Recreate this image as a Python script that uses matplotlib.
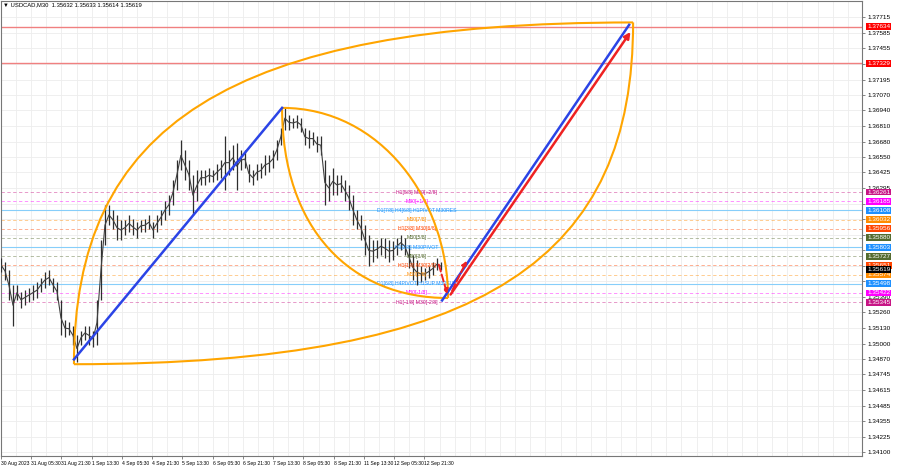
import numpy as np
import matplotlib.pyplot as plt
from matplotlib.path import Path
from matplotlib.patches import PathPatch
import matplotlib.transforms as mtransforms

plt.rcParams['font.family'] = ['Liberation Sans', 'DejaVu Sans']

# price bars (high / low per 2-hour group)
hi = [1.3571, 1.3568, 1.3561, 1.3549, 1.3549, 1.3543, 1.3545, 1.3546, 1.3549, 1.3551,
      1.3555, 1.3560, 1.3561, 1.3555, 1.3551, 1.3536, 1.3520, 1.3518, 1.3515, 1.3507,
      1.3511, 1.3515, 1.3515, 1.3511, 1.3536, 1.3586, 1.3615, 1.3615, 1.3611, 1.3607,
      1.3603, 1.3603, 1.3607, 1.3604, 1.3601, 1.3603, 1.3604, 1.3607, 1.3601, 1.3607,
      1.3611, 1.3619, 1.3624, 1.3636, 1.3653, 1.3669, 1.3661, 1.3653, 1.3640, 1.3644,
      1.3644, 1.3644, 1.3646, 1.3644, 1.3649, 1.3653, 1.3673, 1.3661, 1.3665, 1.3667,
      1.3661, 1.3661, 1.3649, 1.3644, 1.3649, 1.3650, 1.3657, 1.3657, 1.3661, 1.3669,
      1.3679, 1.3697, 1.3690, 1.3688, 1.3690, 1.3688, 1.3679, 1.3678, 1.3676, 1.3673,
      1.3673, 1.3653, 1.3640, 1.3646, 1.3640, 1.3640, 1.3636, 1.3632, 1.3624, 1.3611,
      1.3607, 1.3599, 1.3590, 1.3586, 1.3586, 1.3588, 1.3588, 1.3586, 1.3585, 1.3588,
      1.3590, 1.3588, 1.3582, 1.3574, 1.3570, 1.3565, 1.3563, 1.3565, 1.3568, 1.3571,
      1.3568]
lo = [1.3560, 1.3553, 1.3536, 1.3515, 1.3536, 1.3530, 1.3532, 1.3535, 1.3536, 1.3538,
      1.3543, 1.3546, 1.3549, 1.3543, 1.3536, 1.3507, 1.3506, 1.3507, 1.3499, 1.3485,
      1.3499, 1.3503, 1.3499, 1.3497, 1.3499, 1.3536, 1.3582, 1.3599, 1.3595, 1.3586,
      1.3586, 1.3590, 1.3593, 1.3590, 1.3588, 1.3593, 1.3593, 1.3595, 1.3588, 1.3593,
      1.3599, 1.3603, 1.3607, 1.3615, 1.3628, 1.3644, 1.3636, 1.3628, 1.3607, 1.3619,
      1.3632, 1.3632, 1.3634, 1.3634, 1.3636, 1.3638, 1.3628, 1.3640, 1.3644, 1.3628,
      1.3644, 1.3646, 1.3634, 1.3632, 1.3636, 1.3638, 1.3640, 1.3643, 1.3646, 1.3653,
      1.3665, 1.3678, 1.3678, 1.3679, 1.3679, 1.3676, 1.3665, 1.3663, 1.3665, 1.3659,
      1.3657, 1.3615, 1.3619, 1.3624, 1.3624, 1.3626, 1.3619, 1.3611, 1.3599, 1.3595,
      1.3586, 1.3574, 1.3565, 1.3568, 1.3571, 1.3574, 1.3571, 1.3568, 1.3570, 1.3574,
      1.3578, 1.3574, 1.3563, 1.3553, 1.3549, 1.3551, 1.3553, 1.3555, 1.3557, 1.3561,
      1.3561]
bar_step = 4.23  # M30 bars per group

# time axis labels every 32 bars
time_labels = ["30 Aug 2023", "31 Aug 05:30", "31 Aug 21:30", "1 Sep 13:30", "4 Sep 05:30",
               "4 Sep 21:30", "5 Sep 13:30", "6 Sep 05:30", "6 Sep 21:30", "7 Sep 13:30",
               "8 Sep 05:30", "8 Sep 21:30", "11 Sep 13:30", "12 Sep 05:30", "12 Sep 21:30"]

price_ticks = [1.34100, 1.34225, 1.34355, 1.34485, 1.34615, 1.34745, 1.34870, 1.35000,
               1.35130, 1.35260, 1.35390, 1.35520, 1.35650, 1.35780, 1.35905, 1.36035,
               1.36165, 1.36295, 1.36425, 1.36550, 1.36680, 1.36810, 1.36940, 1.37070,
               1.37195, 1.37325, 1.37455, 1.37585, 1.37715]

# murrey levels
levels = [1.36261, 1.36185, 1.36108, 1.36032, 1.35956, 1.35880, 1.35803,
          1.35727, 1.35651, 1.35574, 1.35498, 1.35422, 1.35345]
level_texts = ["H1[5/8] M30[+2/8]", "M30[+1/8]", "D1[7/8] H4[6/8] H1PIVOT M30RES",
               "M30[7/8]", "H1[3/8] M30[6/8]", "M30[5/8]", "H1[2/8] M30PIVOT",
               "M30[3/8]", "H1[1/8] M30[2/8]", "M30[1/8]", "D1[6/8] H4PIVOT H1SUP M30SUP",
               "M30[-1/8]", "H1[-1/8] M30[-2/8]"]
level_colors = ['#c71585', '#ff00ff', '#1e90ff', '#ff8c00', '#ff4500', '#556b2f', '#1e90ff',
                '#556b2f', '#ff4500', '#ff8c00', '#1e90ff', '#ff00ff', '#c71585']
target_levels = [1.37634, 1.37329]
last_price = 1.35619

# drawn objects (bar index, price)
blue1 = ([77.2, 297.4], [1.3487, 1.3696])
blue2 = ([466.7, 664.6], [1.3536, 1.3765])
red_main = ([474.0, 667.7], [1.3539, 1.3761])
red_dash1 = ([462.4, 473.0], [1.3568, 1.3539])
red_dash2 = ([476.0, 494.0], [1.3542, 1.3571])
# petals: start, ctrl1, ctrl2, end
petal_outer_up = [(77.2, 1.3483), (77.2, 1.3680), (238.1, 1.3767), (668.8, 1.3767)]
petal_outer_lo = [(77.2, 1.3483), (520.0, 1.3483), (668.8, 1.3575), (668.8, 1.3767)]
petal_inner_up = [(297.4, 1.3696), (402.1, 1.3696), (473.0, 1.3619), (473.0, 1.3538)]
petal_inner_lo = [(297.4, 1.3696), (297.4, 1.3595), (370.4, 1.3538), (473.0, 1.3538)]

fig = plt.figure(figsize=(9, 4.68), dpi=100)
ax = fig.add_axes([0.0011, 0.0256, 0.9567, 0.9722])
ax.set_xlim(0, 911)
ax.set_ylim(1.34067, 1.37848)

# grid
for t in price_ticks:
    ax.axhline(t, color='#ededed', lw=0.6, zorder=0)
for b in np.arange(0, 911, 16):
    ax.axvline(b, color='#ededed', lw=0.6, zorder=0)

# level lines
for lvl, c in zip(levels, level_colors):
    if c == '#1e90ff':
        ax.axhline(lvl, color='#87cefa', lw=0.8, zorder=1)
    else:
        ax.axhline(lvl, color=c, lw=0.6, ls=(0, (4, 3)), alpha=0.5, zorder=1)
for lvl in target_levels:
    ax.axhline(lvl, color='#f08080', lw=1.0, zorder=1)

# price bars
x = np.arange(len(hi)) * bar_step
hi_a = np.array(hi)
lo_a = np.array(lo)
ax.vlines(x, lo_a, hi_a, color='#2e2e2e', lw=0.9, zorder=3)
ax.plot(x, (hi_a + lo_a) / 2, color='#404040', lw=0.8, zorder=3)

# level labels on chart
for lvl, txt, c in zip(levels, level_texts, level_colors):
    ax.text(440, lvl, txt, color=c, fontsize=3.7, ha='center', va='center', zorder=4)

# petals
for pts in [petal_outer_up, petal_outer_lo, petal_inner_up, petal_inner_lo]:
    path = Path(pts, [Path.MOVETO, Path.CURVE4, Path.CURVE4, Path.CURVE4])
    ax.add_patch(PathPatch(path, fc='none', ec='#ffa500', lw=1.5, zorder=5))

# trend lines
ax.plot(*blue1, color='#2b44e6', lw=1.8, zorder=6)
ax.plot(*blue2, color='#2b44e6', lw=1.8, zorder=6)
ax.annotate('', xy=(red_main[0][1], red_main[1][1]), xytext=(red_main[0][0], red_main[1][0]),
            arrowprops=dict(arrowstyle='-|>', color='#ee2222', lw=1.8, mutation_scale=9), zorder=7)
for seg in [red_dash1, red_dash2]:
    ax.annotate('', xy=(seg[0][1], seg[1][1]), xytext=(seg[0][0], seg[1][0]),
                arrowprops=dict(arrowstyle='-|>', color='#ee2222', lw=1.4, ls='--',
                                mutation_scale=7), zorder=7)

# right-axis price boxes
boxes = list(zip(levels, level_colors)) + [(p, '#ff0000') for p in target_levels] + [(last_price, '#000000')]
box_prices = [p for p, c in boxes]

# tick labels that are hidden behind a box are left out
shown_ticks = [t for t in price_ticks if min(abs(t - p) for p in box_prices) > 0.00028]

# axes styling
ax.yaxis.tick_right()
ax.set_yticks(price_ticks)
ax.set_yticklabels([f"{t:.5f}" if t in shown_ticks else "" for t in price_ticks])
ax.set_xticks(np.arange(len(time_labels)) * 32)
ax.set_xticklabels(time_labels)
for lab in ax.get_xticklabels():
    lab.set_ha('left')
ax.tick_params(axis='y', labelsize=4.6, length=2, width=0.5, color='#555555', pad=2)
ax.tick_params(axis='x', labelsize=3.6, length=2, width=0.5, color='#555555', pad=1.5)
for s in ax.spines.values():
    s.set_color('#777777')
    s.set_linewidth(0.8)

tr = mtransforms.blended_transform_factory(ax.transAxes, ax.transData)
for p, c in boxes:
    ax.text(1.006, p, f"{p:.5f}", transform=tr, color='white', fontsize=4.6, ha='left',
            va='center', clip_on=False, zorder=10,
            bbox=dict(boxstyle='square,pad=0.15', fc=c, ec='none'))

fig.text(0.003, 0.989, "\u25bc USDCAD,M30  1.35632 1.35633 1.35614 1.35619", fontsize=4.2,
         ha='left', va='center')

fig.savefig('out.png', dpi=100)
